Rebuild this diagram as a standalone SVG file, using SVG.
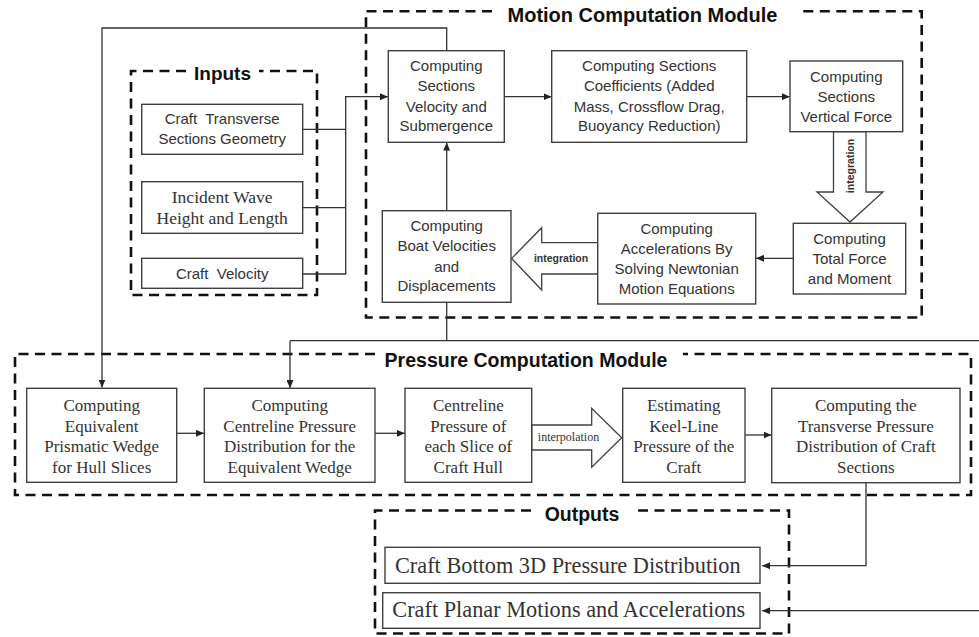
<svg xmlns="http://www.w3.org/2000/svg" width="979" height="637" viewBox="0 0 979 637">
<defs>
<marker id="ah" markerUnits="userSpaceOnUse" markerWidth="8" markerHeight="7" refX="8" refY="3.5" orient="auto">
<path d="M0,0 L8,3.5 L0,7 z" fill="#222"/>
</marker>
<style>
.box{fill:#fff;stroke:#404040;stroke-width:1.4}
.dash{fill:none;stroke:#111;stroke-width:2.6;stroke-dasharray:10 6.5}
.con{fill:none;stroke:#333;stroke-width:1.3}
.blk{fill:#fff;stroke:#404040;stroke-width:1.3}
.s{font-family:"Liberation Sans",Arial,sans-serif;font-size:15px;fill:#333;text-anchor:middle;white-space:pre}
.r{font-family:"Liberation Serif","Times New Roman",serif;font-size:17px;fill:#333;text-anchor:middle;white-space:pre}
.o{font-family:"Liberation Serif","Times New Roman",serif;font-size:22.3px;fill:#333}
.t{font-family:"Liberation Sans",Arial,sans-serif;font-weight:bold;fill:#111;text-anchor:middle}
.lbl{font-family:"Liberation Sans",Arial,sans-serif;font-weight:bold;font-size:10.5px;fill:#333;text-anchor:middle}
</style>
</defs>
<rect width="979" height="637" fill="#fff"/>

<g id="group-inputs">
<path class="dash" d="M186,71 H131 V295 H317 V71 H259"/>
<text class="t" x="222.5" y="79.5" font-size="19">Inputs</text>
</g>
<g id="group-motion">
<path class="dash" d="M492,11.3 H366 V317.5 H921.7 V11.3 H797"/>
<text class="t" x="642.5" y="22" font-size="20">Motion Computation Module</text>
</g>
<g id="group-pressure">
<path class="dash" d="M375,354 H15 V495 H971 V354 H683"/>
<text class="t" x="526" y="366.5" font-size="19.5">Pressure Computation Module</text>
</g>
<g id="group-outputs">
<path class="dash" d="M531,510.5 H375 V633.5 H789 V510.5 H633"/>
<text class="t" x="582" y="521" font-size="19.5">Outputs</text>
</g>

<g id="connectors">
<polyline class="con" points="446.7,50.7 446.7,28 102,28 102,387.5" marker-end="url(#ah)"/>
<line class="con" x1="302.7" y1="129.3" x2="345.7" y2="129.3"/>
<line class="con" x1="302.7" y1="207.7" x2="345.7" y2="207.7"/>
<line class="con" x1="302.7" y1="274" x2="345.7" y2="274"/>
<line class="con" x1="345.7" y1="274.6" x2="345.7" y2="96.7"/>
<line class="con" x1="345" y1="96.7" x2="388" y2="96.7" stroke-width="1.8" marker-end="url(#ah)"/>
<line class="con" x1="504.3" y1="96.7" x2="551.5" y2="96.7" marker-end="url(#ah)"/>
<line class="con" x1="746.7" y1="96.7" x2="789.8" y2="96.7" marker-end="url(#ah)"/>
<line class="con" x1="793.3" y1="258.3" x2="756" y2="258.3" marker-end="url(#ah)"/>
<line class="con" x1="446.7" y1="210.7" x2="446.7" y2="142.6" marker-end="url(#ah)"/>
<line class="con" x1="446.7" y1="302.3" x2="446.7" y2="340.7"/>
<line class="con" x1="979" y1="340.7" x2="290" y2="340.7"/>
<line class="con" x1="290" y1="340.7" x2="290" y2="388" marker-end="url(#ah)"/>
<line class="con" x1="176.7" y1="433.3" x2="204" y2="433.3" marker-end="url(#ah)"/>
<line class="con" x1="375" y1="433.3" x2="404.8" y2="433.3" marker-end="url(#ah)"/>
<line class="con" x1="745" y1="435" x2="771.5" y2="435" marker-end="url(#ah)"/>
<polyline class="con" points="866,482.7 866,565.7 762,565.7" marker-end="url(#ah)"/>
<line class="con" x1="979" y1="610.7" x2="762" y2="610.7" marker-end="url(#ah)"/>
</g>

<g id="arrow-integration-down">
<polygon class="blk" points="833.5,131.7 866,131.7 866,192 883,192 850,222 817,192 833.5,192"/>
<text class="lbl" transform="translate(854,166) rotate(-90)">integration</text>
</g>
<g id="arrow-integration-left">
<polygon class="blk" points="597.7,242.7 541.7,242.7 541.7,227.7 511.7,258.4 541.7,290 541.7,274 597.7,274"/>
<text class="lbl" x="561" y="262.3">integration</text>
</g>
<g id="arrow-interpolation">
<polygon class="blk" points="531.7,425 591.7,425 591.7,408.3 621.7,437.7 591.7,467.3 591.7,450 531.7,450"/>
<text class="r" x="568.5" y="440.5" style="font-size:12px">interpolation</text>
</g>

<g id="node-craft-geometry">
<rect class="box" x="141.7" y="104.3" width="161" height="50"/>
<text class="s" x="222.2" y="124.3">Craft  Transverse</text>
<text class="s" x="222.2" y="144.3">Sections Geometry</text>
</g>
<g id="node-wave">
<rect class="box" x="141.7" y="181.7" width="161" height="51.6"/>
<text class="r" x="222.2" y="202.7" style="font-size:17.5px">Incident Wave</text>
<text class="r" x="222.2" y="224" style="font-size:17.5px">Height and Length</text>
</g>
<g id="node-craft-velocity">
<rect class="box" x="141.7" y="258.3" width="161" height="30"/>
<text class="s" x="222.2" y="279">Craft  Velocity</text>
</g>

<g id="node-sections-velocity">
<rect class="box" x="388.3" y="50.7" width="116" height="91.6"/>
<text class="s" x="446.3" y="70.7">Computing</text>
<text class="s" x="446.3" y="91">Sections</text>
<text class="s" x="446.3" y="111.5">Velocity and</text>
<text class="s" x="446.3" y="131">Submergence</text>
</g>
<g id="node-coefficients">
<rect class="box" x="551.7" y="50.7" width="195" height="91.6"/>
<text class="s" x="649.2" y="70.7">Computing Sections</text>
<text class="s" x="649.2" y="91">Coefficients (Added</text>
<text class="s" x="649.2" y="111.5">Mass, Crossflow Drag,</text>
<text class="s" x="649.2" y="131">Buoyancy Reduction)</text>
</g>
<g id="node-vertical-force">
<rect class="box" x="790" y="61" width="112.7" height="70.7"/>
<text class="s" x="846.3" y="81.7">Computing</text>
<text class="s" x="846.3" y="101.7">Sections</text>
<text class="s" x="846.3" y="121.7">Vertical Force</text>
</g>
<g id="node-total-force">
<rect class="box" x="793.3" y="223.3" width="112.4" height="70.7"/>
<text class="s" x="849.5" y="244">Computing</text>
<text class="s" x="849.5" y="264">Total Force</text>
<text class="s" x="849.5" y="284.3">and Moment</text>
</g>
<g id="node-accelerations">
<rect class="box" x="597.7" y="213.3" width="158" height="90.7"/>
<text class="s" x="676.7" y="233.5">Computing</text>
<text class="s" x="676.7" y="254">Accelerations By</text>
<text class="s" x="676.7" y="274.3">Solving Newtonian</text>
<text class="s" x="676.7" y="294.3">Motion Equations</text>
</g>
<g id="node-boat-velocities">
<rect class="box" x="382.3" y="210.7" width="128.7" height="91.6"/>
<text class="s" x="446.7" y="230.7">Computing</text>
<text class="s" x="446.7" y="250.7">Boat Velocities</text>
<text class="s" x="446.7" y="271.5">and</text>
<text class="s" x="446.7" y="291">Displacements</text>
</g>

<g id="node-wedge">
<rect class="box" x="26.7" y="388.3" width="150" height="94"/>
<text class="r" x="101.7" y="410.5">Computing</text>
<text class="r" x="101.7" y="431.5">Equivalent</text>
<text class="r" x="101.7" y="452">Prismatic Wedge</text>
<text class="r" x="101.7" y="472.5">for Hull Slices</text>
</g>
<g id="node-centreline-distribution">
<rect class="box" x="204.3" y="388.3" width="170.7" height="94"/>
<text class="r" x="289.7" y="410.5">Computing</text>
<text class="r" x="289.7" y="431.5">Centreline Pressure</text>
<text class="r" x="289.7" y="452">Distribution for the</text>
<text class="r" x="289.7" y="472.5">Equivalent Wedge</text>
</g>
<g id="node-centreline-slice">
<rect class="box" x="405" y="388.3" width="126.7" height="94"/>
<text class="r" x="468.3" y="410.5">Centreline</text>
<text class="r" x="468.3" y="431.5">Pressure of</text>
<text class="r" x="468.3" y="452">each Slice of</text>
<text class="r" x="468.3" y="472.5">Craft Hull</text>
</g>
<g id="node-keel-line">
<rect class="box" x="622.7" y="388.3" width="122.3" height="94"/>
<text class="r" x="683.8" y="410.5">Estimating</text>
<text class="r" x="683.8" y="431.5">Keel-Line</text>
<text class="r" x="683.8" y="452">Pressure of the</text>
<text class="r" x="683.8" y="472.5">Craft</text>
</g>
<g id="node-transverse-pressure">
<rect class="box" x="771.7" y="388.3" width="188.3" height="94.4"/>
<text class="r" x="865.8" y="410.5">Computing the</text>
<text class="r" x="865.8" y="431.5">Transverse Pressure</text>
<text class="r" x="865.8" y="452">Distribution of Craft</text>
<text class="r" x="865.8" y="472.5">Sections</text>
</g>

<g id="node-output-pressure">
<rect class="box" x="385" y="547.3" width="375" height="36"/>
<text class="o" x="395" y="572.7">Craft Bottom 3D Pressure Distribution</text>
</g>
<g id="node-output-motions">
<rect class="box" x="382.7" y="592.7" width="377.3" height="35.6"/>
<text class="o" x="392.3" y="617.3">Craft Planar Motions and Accelerations</text>
</g>
</svg>
